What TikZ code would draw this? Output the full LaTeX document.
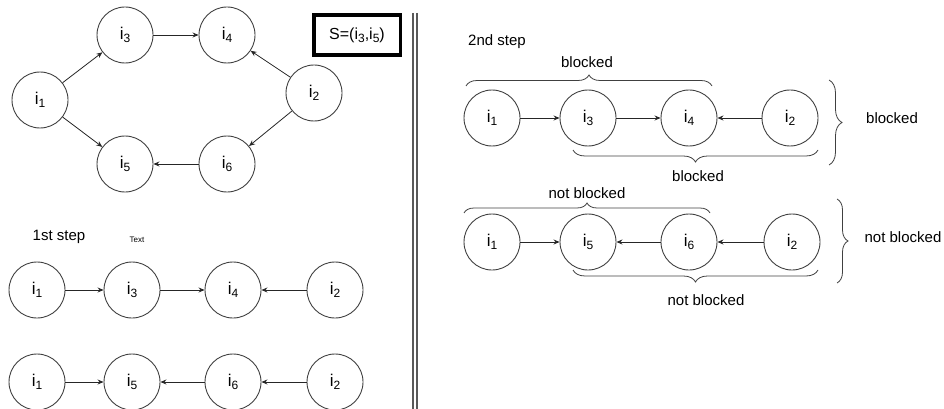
\documentclass[tikz,border=0pt]{standalone}
\usepackage{fontspec}
\setmainfont{Liberation Sans}
\usetikzlibrary{arrows.meta,decorations.pathreplacing}
% lowered, smaller digit used as an index
\newcommand\isub[1]{\raisebox{-0.2em}{\fontsize{12}{13}\selectfont #1}}

\begin{document}
\begin{tikzpicture}[x=1pt,y=-1pt,
  state/.style={circle,draw=black!75,line width=0.9pt,minimum size=56pt,
    inner sep=0pt,font=\fontsize{17}{19}\selectfont},
  link/.style={draw=black!85,line width=0.8pt,-{Stealth[length=6pt,width=5pt]}},
  lbl/.style={font=\fontsize{15}{18}\selectfont,inner sep=0pt},
  brc/.style={draw=black!75,line width=0.8pt,decorate,decoration={brace,amplitude=#1}},
  sepline/.style={draw=black!65,line width=1.2pt}
]
\useasboundingbox (0,0) rectangle (944,409);

% ---------- graph with the two paths ----------
\node[state] (g1) at (40,100)  {i\isub1};
\node[state] (g3) at (125,35)  {i\isub3};
\node[state] (g4) at (227,35)  {i\isub4};
\node[state] (g2) at (314,93)  {i\isub2};
\node[state] (g5) at (125,164) {i\isub5};
\node[state] (g6) at (227,164) {i\isub6};
\draw[link] (g1) -- (g3);
\draw[link] (g1) -- (g5);
\draw[link] (g3) -- (g4);
\draw[link] (g2) -- (g4);
\draw[link] (g2) -- (g6);
\draw[link] (g6) -- (g5);

\node[draw=black,line width=3.5pt,minimum width=86.5pt,minimum height=40pt,
  inner sep=0pt,font=\fontsize{16}{18}\selectfont] (sbox) at (357,35) {S=(i\isub3,i\isub5)};

% ---------- separator ----------
\draw[sepline] (413,13) -- (413,409);
\draw[sepline] (417,13) -- (417,409);

% ---------- first step ----------
\node[lbl] (step1) at (59,237) {1st step};
\node[inner sep=0pt,font=\fontsize{8}{9}\selectfont] (txt) at (137,240) {Text};

\node[state] (a1) at (37,290)  {i\isub1};
\node[state] (a3) at (132,290) {i\isub3};
\node[state] (a4) at (233,290) {i\isub4};
\node[state] (a2) at (335,290) {i\isub2};
\draw[link] (a1) -- (a3);
\draw[link] (a3) -- (a4);
\draw[link] (a2) -- (a4);

\node[state] (b1) at (37,382)  {i\isub1};
\node[state] (b5) at (132,382) {i\isub5};
\node[state] (b6) at (233,382) {i\isub6};
\node[state] (b2) at (335,382) {i\isub2};
\draw[link] (b1) -- (b5);
\draw[link] (b6) -- (b5);
\draw[link] (b2) -- (b6);

% ---------- second step ----------
\node[lbl] (step2) at (497,42) {2nd step};

\node[state] (c1) at (492,118) {i\isub1};
\node[state] (c3) at (588,118) {i\isub3};
\node[state] (c4) at (689,118) {i\isub4};
\node[state] (c2) at (790,118) {i\isub2};
\draw[link] (c1) -- (c3);
\draw[link] (c3) -- (c4);
\draw[link] (c2) -- (c4);

\draw[brc=11] (466,86) -- (712,86);
\draw[brc=12] (818,150) -- (573,150);
\draw[brc=13] (829,80) -- (829,165);
\node[lbl] (cb1) at (587,62)  {blocked};
\node[lbl] (cb2) at (698,176) {blocked};
\node[lbl] (cb3) at (892,118) {blocked};

\node[state] (d1) at (492,242) {i\isub1};
\node[state] (d5) at (588,242) {i\isub5};
\node[state] (d6) at (689,242) {i\isub6};
\node[state] (d2) at (792,242) {i\isub2};
\draw[link] (d1) -- (d5);
\draw[link] (d6) -- (d5);
\draw[link] (d2) -- (d6);

\draw[brc=10] (464,213) -- (710,213);
\draw[brc=12] (818,270) -- (573,270);
\draw[brc=11] (837,199) -- (837,283);
\node[lbl] (db1) at (587,193) {not blocked};
\node[lbl] (db2) at (706,300) {not blocked};
\node[lbl] (db3) at (903,237) {not blocked};
\end{tikzpicture}
\end{document}
